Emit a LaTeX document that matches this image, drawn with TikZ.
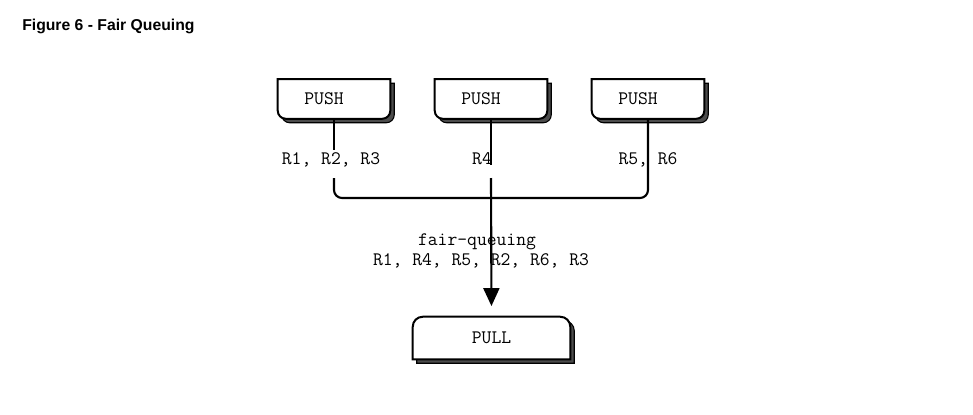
\documentclass[tikz,border=0pt]{standalone}
\usepackage{fontspec}
\setmainfont{Liberation Sans}
\usetikzlibrary{calc,arrows.meta,backgrounds}

% Box outlines: node name, offset (px)
\newcommand\pushpath[2]{($(#1.north west)+(#2,#2)$) -- ($(#1.south west)+(#2,#2-8)$)
  arc[start angle=180, end angle=90, radius=8] -- ($(#1.south east)+(#2-8,#2)$)
  arc[start angle=90, end angle=0, radius=8] -- ($(#1.north east)+(#2,#2)$) -- cycle}
\newcommand\pullpath[2]{($(#1.south west)+(#2,#2)$) -- ($(#1.north west)+(#2,#2+10)$)
  arc[start angle=180, end angle=270, radius=10] -- ($(#1.north east)+(#2-10,#2)$)
  arc[start angle=270, end angle=360, radius=10] -- ($(#1.south east)+(#2,#2)$) -- cycle}

\begin{document}
\begin{tikzpicture}[x=0.75pt, y=-0.75pt,
    pushbox/.style={inner sep=0pt, minimum width=84pt, minimum height=29.25pt,
      font=\ttfamily\fontsize{14.3}{16}\selectfont},
    pullbox/.style={pushbox, minimum width=117.75pt, minimum height=31.5pt},
    boxline/.style={line width=1.5pt, fill=white},
    shadowline/.style={line width=0.8pt, fill=black!70},
    wire/.style={line width=1.6pt},
    msgtext/.style={inner sep=0pt, anchor=base, font=\ttfamily\fontsize{14.3}{16}\selectfont}]
    \useasboundingbox (0,0) rectangle (973,414);

    % Title
    \node[anchor=base west, inner sep=0pt, font=\bfseries\fontsize{11.8}{14}\selectfont]
        (title) at (22,31) {Figure 6 - Fair Queuing};

    % Sockets (text sits one cell left of centre)
    \foreach \n/\x in {push1/334, push2/491, push3/648}
        \node[pushbox] (\n) at (\x,99) {PUSH\kern15pt};
    \node[pullbox] (pull) at (491.5,338) {PULL};

    \begin{scope}[on background layer]
        \fill[white] (0,0) rectangle (973,414);
        \foreach \n in {push1, push2, push3} {
            \filldraw[shadowline] \pushpath{\n}{4};
            \filldraw[boxline] \pushpath{\n}{0};
        }
        \filldraw[shadowline] \pullpath{pull}{4};
        \filldraw[boxline] \pullpath{pull}{0};
    \end{scope}

    % Gaps in the wires
    \coordinate (gap1a) at (334,150);
    \coordinate (gap1b) at (334,178);
    \coordinate (gap2a) at (491,165);
    \coordinate (gap2b) at (491,178);
    \coordinate (join) at (491,198);

    % Wires
    \draw[wire] (push1.south) -- (gap1a);
    \draw[wire, rounded corners=6pt] (gap1b) |- (join) -| (push3.south);
    \draw[wire] (push2.south) -- (gap2a);
    \draw[wire, -{Triangle[length=13.5pt, width=12pt]}, shorten >=8pt] (gap2b) -- (pull.north);

    % Messages
    \node[msgtext] (in1) at (331,164) {R1, R2, R3};
    \node[msgtext] (in2) at (482,164) {R4};
    \node[msgtext] (in3) at (648,164) {R5, R6};
    \node[msgtext] (fq) at (477,245) {fair-queuing};
    \node[msgtext] (out) at (481,265) {R1, R4, R5, R2, R6, R3};
\end{tikzpicture}
\end{document}
